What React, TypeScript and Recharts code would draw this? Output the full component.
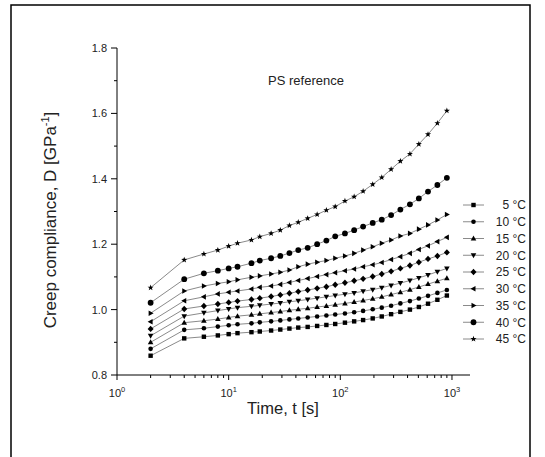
import { Line, LineChart, XAxis, YAxis } from "recharts";

const times = [2, 4, 6, 8, 10, 12, 16, 19, 24, 29, 35, 42, 51, 62, 75, 90, 110, 133, 160, 195, 235, 285, 345, 420, 505, 610, 740, 900];

const d5 = [0.859, 0.912, 0.917, 0.921, 0.925, 0.928, 0.931, 0.933, 0.936, 0.939, 0.942, 0.945, 0.947, 0.95, 0.953, 0.956, 0.96, 0.964, 0.968, 0.973, 0.979, 0.986, 0.993, 1.0, 1.008, 1.018, 1.03, 1.043];
const d10 = [0.88, 0.938, 0.943, 0.948, 0.952, 0.955, 0.958, 0.961, 0.964, 0.967, 0.97, 0.973, 0.976, 0.979, 0.982, 0.985, 0.988, 0.992, 0.996, 1.001, 1.006, 1.012, 1.019, 1.026, 1.034, 1.042, 1.051, 1.06];
const d15 = [0.9, 0.96, 0.966, 0.971, 0.976, 0.98, 0.984, 0.987, 0.991, 0.994, 0.998, 1.001, 1.004, 1.008, 1.011, 1.015, 1.019, 1.023, 1.028, 1.033, 1.039, 1.046, 1.053, 1.061, 1.069, 1.078, 1.087, 1.096];
const d20 = [0.92, 0.98, 0.99, 0.997, 1.002, 1.006, 1.01, 1.013, 1.017, 1.02, 1.024, 1.027, 1.031, 1.035, 1.039, 1.043, 1.047, 1.051, 1.056, 1.061, 1.067, 1.074, 1.081, 1.089, 1.097, 1.106, 1.116, 1.126];
const d25 = [0.941, 1.002, 1.011, 1.017, 1.022, 1.026, 1.031, 1.035, 1.04, 1.045, 1.05, 1.055, 1.06, 1.065, 1.07, 1.076, 1.082, 1.088, 1.094, 1.101, 1.109, 1.117, 1.126, 1.135, 1.145, 1.155, 1.164, 1.175];
const d30 = [0.963, 1.027, 1.039, 1.048, 1.053, 1.057, 1.063, 1.068, 1.072, 1.077, 1.083, 1.089, 1.095, 1.101, 1.107, 1.113, 1.119, 1.124, 1.131, 1.137, 1.144, 1.153, 1.162, 1.172, 1.184, 1.195, 1.208, 1.221];
const d35 = [0.989, 1.057, 1.072, 1.08, 1.085, 1.091, 1.099, 1.103, 1.109, 1.114, 1.121, 1.131, 1.139, 1.145, 1.15, 1.157, 1.164, 1.172, 1.182, 1.192, 1.203, 1.213, 1.225, 1.233, 1.246, 1.259, 1.274, 1.291];
const d40 = [1.021, 1.093, 1.111, 1.119, 1.126, 1.131, 1.142, 1.15, 1.157, 1.164, 1.173, 1.182, 1.189, 1.2, 1.211, 1.224, 1.233, 1.243, 1.254, 1.265, 1.275, 1.289, 1.306, 1.322, 1.34, 1.361, 1.381, 1.403];
const d45 = [1.067, 1.152, 1.17, 1.182, 1.194, 1.203, 1.213, 1.223, 1.233, 1.243, 1.257, 1.267, 1.279, 1.291, 1.304, 1.315, 1.332, 1.345, 1.362, 1.383, 1.404, 1.429, 1.454, 1.476, 1.506, 1.536, 1.57, 1.608];

const xTicks = [1, 2, 3, 4, 5, 6, 7, 8, 9, 10, 20, 30, 40, 50, 60, 70, 80, 90, 100, 200, 300, 400, 500, 600, 700, 800, 900, 1000];
const xMajor = [1, 10, 100, 1000];
const yTicks = [0.8, 0.9, 1.0, 1.1, 1.2, 1.3, 1.4, 1.5, 1.6, 1.7, 1.8];

const SERIES = [
  { key: "c5", label: "5 °C", values: d5, shape: "square" },
  { key: "c10", label: "10 °C", values: d10, shape: "circle" },
  { key: "c15", label: "15 °C", values: d15, shape: "up" },
  { key: "c20", label: "20 °C", values: d20, shape: "down" },
  { key: "c25", label: "25 °C", values: d25, shape: "diamond" },
  { key: "c30", label: "30 °C", values: d30, shape: "left" },
  { key: "c35", label: "35 °C", values: d35, shape: "right" },
  { key: "c40", label: "40 °C", values: d40, shape: "bigcircle" },
  { key: "c45", label: "45 °C", values: d45, shape: "star" },
];

const rows = times.map((t, i) => {
  const row: Record<string, number> = { t };
  SERIES.forEach((s) => {
    row[s.key] = s.values[i];
  });
  return row;
});

const FONT = "'Liberation Sans', Arial, sans-serif";
const LINE_COLOR = "#7d7d7d";

function Marker({ cx, cy, shape }: { cx: number; cy: number; shape: string }) {
  if (cx == null || cy == null) return null;
  switch (shape) {
    case "square":
      return <rect x={cx - 2.2} y={cy - 2.2} width={4.4} height={4.4} fill="#000" />;
    case "circle":
      return <circle cx={cx} cy={cy} r={2.3} fill="#000" />;
    case "bigcircle":
      return <circle cx={cx} cy={cy} r={2.9} fill="#000" />;
    case "up":
      return <polygon points={`${cx},${cy - 3} ${cx + 2.8},${cy + 2} ${cx - 2.8},${cy + 2}`} fill="#000" />;
    case "down":
      return <polygon points={`${cx},${cy + 3} ${cx + 2.8},${cy - 2} ${cx - 2.8},${cy - 2}`} fill="#000" />;
    case "left":
      return <polygon points={`${cx - 3},${cy} ${cx + 2},${cy - 2.8} ${cx + 2},${cy + 2.8}`} fill="#000" />;
    case "right":
      return <polygon points={`${cx + 3},${cy} ${cx - 2},${cy - 2.8} ${cx - 2},${cy + 2.8}`} fill="#000" />;
    case "diamond":
      return <polygon points={`${cx},${cy - 3.2} ${cx + 3},${cy} ${cx},${cy + 3.2} ${cx - 3},${cy}`} fill="#000" />;
    case "star": {
      const pts: string[] = [];
      for (let k = 0; k < 10; k++) {
        const r = k % 2 === 0 ? 3.2 : 1.3;
        const a = -Math.PI / 2 + (k * Math.PI) / 5;
        pts.push(`${cx + r * Math.cos(a)},${cy + r * Math.sin(a)}`);
      }
      return <polygon points={pts.join(" ")} fill="#000" />;
    }
    default:
      return null;
  }
}

function XTick(props: any) {
  const { x, y, payload } = props;
  const v = payload.value;
  const major = xMajor.includes(v);
  return (
    <g>
      <line x1={x} x2={x} y1={y} y2={y + (major ? 5 : 3)} stroke="#000" strokeWidth={1} />
      {major && (
        <text x={x} y={y + 22} textAnchor="middle" fontSize={11} fontFamily={FONT} fill="#222">
          10
          <tspan dy={-5} fontSize={7.5}>
            {Math.round(Math.log10(v))}
          </tspan>
        </text>
      )}
    </g>
  );
}

function YTick(props: any) {
  const { x, y, payload } = props;
  const v = payload.value;
  const major = Math.round(v * 10) % 2 === 0;
  return (
    <g>
      <line x1={x - (major ? 6 : 3)} x2={x} y1={y} y2={y} stroke="#000" strokeWidth={1} />
      {major && (
        <text x={x - 10} y={y + 4} textAnchor="end" fontSize={11} fontFamily={FONT} fill="#222">
          {v.toFixed(1)}
        </text>
      )}
    </g>
  );
}

export default function App() {
  return (
    <div style={{ position: "absolute", left: 0, top: 0, width: 545, height: 457, background: "#fff" }}>
      <LineChart width={545} height={457} data={rows} margin={{ top: 48, right: 75, bottom: 22, left: 57 }}>
        <XAxis
          dataKey="t"
          type="number"
          scale="log"
          domain={[1, 1450]}
          allowDataOverflow
          ticks={xTicks}
          interval={0}
          tick={<XTick />}
          tickLine={false}
          tickSize={0}
          tickMargin={0}
          height={60}
          axisLine={{ stroke: "#000", strokeWidth: 1 }}
        />
        <YAxis
          type="number"
          domain={[0.8, 1.8]}
          allowDataOverflow
          ticks={yTicks}
          interval={0}
          tick={<YTick />}
          tickLine={false}
          tickSize={0}
          tickMargin={0}
          width={60}
          axisLine={{ stroke: "#000", strokeWidth: 1 }}
        />
        {SERIES.map((s) => (
          <Line
            key={s.key}
            dataKey={s.key}
            stroke={LINE_COLOR}
            strokeWidth={0.9}
            isAnimationActive={false}
            dot={(p: any) => <Marker key={`${s.key}-${p.index}`} cx={p.cx} cy={p.cy} shape={s.shape} />}
            activeDot={false}
          />
        ))}
      </LineChart>
      <svg
        width={545}
        height={457}
        style={{ position: "absolute", left: 0, top: 0, pointerEvents: "none" }}
        fontFamily={FONT}
      >
        <path d="M11,457 V5 H530 V457" fill="none" stroke="#000" strokeWidth={1.5} />
        <text x={306} y={85} textAnchor="middle" fontSize={13} fill="#222">
          PS reference
        </text>
        <text x={283} y={414} textAnchor="middle" fontSize={16.5} fill="#222">
          Time, t [s]
        </text>
        <text transform="translate(56,220) rotate(-90)" textAnchor="middle" fontSize={17} fill="#222">
          Creep compliance, D [GPa
          <tspan dy={-7} fontSize={11}>
            -1
          </tspan>
          <tspan dy={7}>]</tspan>
        </text>
        {SERIES.map((s, i) => {
          const cy = 205 + i * 16.75;
          return (
            <g key={s.key}>
              <line x1={463} x2={484} y1={cy} y2={cy} stroke={LINE_COLOR} strokeWidth={0.9} />
              <Marker cx={473.5} cy={cy} shape={s.shape} />
              <text x={526} y={cy + 4.3} textAnchor="end" fontSize={12} fill="#222">
                {s.label}
              </text>
            </g>
          );
        })}
      </svg>
    </div>
  );
}
